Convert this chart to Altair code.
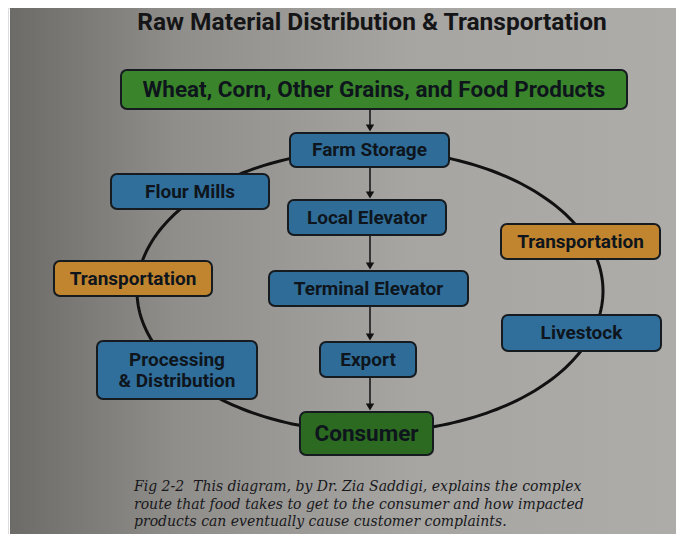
import altair as alt
import numpy as np
import pandas as pd

title_text = "Raw Material Distribution & Transportation"
caption_lines = [
    "Fig 2-2\u00a0\u00a0This diagram, by Dr. Zia Saddigi, explains the complex",
    "route that food takes to get to the consumer and how impacted",
    "products can eventually cause customer complaints.",
]

box_labels = [
    "Wheat, Corn, Other Grains, and Food Products",
    "Farm Storage", "Local Elevator", "Terminal Elevator", "Export", "Consumer",
    "Flour Mills", "Transportation", "Processing\n& Distribution",
    "Transportation", "Livestock",
]
box_kind = ["source", "chain", "chain", "chain", "chain", "end",
            "branch", "transport", "branch", "transport", "branch"]
box_left = [121, 290, 288, 269, 320, 300, 111, 54, 97, 501, 502]
box_right = [627, 449, 446, 468, 416, 433, 269, 212, 257, 660, 661]
box_top = [70, 133, 200, 271, 342, 412, 174, 261, 341, 224, 315]
box_bottom = [109, 167, 235, 306, 377, 455, 209, 296, 399, 259, 351]
label_size = [22.5, 19, 19, 19, 19, 22.5, 19, 19, 19, 19, 19]

arrow_from = [0, 1, 2, 3, 4]
arrow_to = [1, 2, 3, 4, 5]
arrow_x = 370

ellipse_cx, ellipse_cy, ellipse_rx, ellipse_ry = 370, 291, 233, 141

kinds = ["source", "chain", "end", "transport", "branch"]
kind_colors = ["#3a852b", "#2f6d98", "#2c6a21", "#c2852f", "#306f9b"]

X0, X1, Y0, Y1 = 8, 676, 8, 534
W, H = X1 - X0, Y1 - Y0
LINE_H = 21

xs = alt.Scale(domain=[X0, X1], nice=False, zero=False)
ys = alt.Scale(domain=[Y0, Y1], nice=False, zero=False, reverse=True)

boxes = pd.DataFrame({
    "label": box_labels, "kind": box_kind,
    "x0": box_left, "x1": box_right, "y0": box_top, "y1": box_bottom,
    "size": label_size,
})
boxes["cx"] = (boxes.x0 + boxes.x1) / 2
nlines = boxes.label.str.count("\n") + 1
boxes["cy"] = (boxes.y0 + boxes.y1) / 2 - (nlines - 1) * LINE_H / 2

arrows = pd.DataFrame({
    "x": [arrow_x] * len(arrow_from),
    "ya": [box_bottom[i] for i in arrow_from],
    "yb": [box_top[j] for j in arrow_to],
})
arrows["tip"] = arrows.yb - 5

t = np.linspace(0, 2 * np.pi, 241)
ellipse = pd.DataFrame({
    "x": ellipse_cx + ellipse_rx * np.cos(t),
    "y": ellipse_cy + ellipse_ry * np.sin(t),
    "o": np.arange(len(t)),
})

bg = alt.Chart(pd.DataFrame({"a": [0]})).mark_rect(
    color=alt.Gradient(
        gradient="linear", x1=0, y1=0.5, x2=1, y2=0.5,
        stops=[
            alt.GradientStop(offset=0, color="#6d6b67"),
            alt.GradientStop(offset=0.25, color="#908e8a"),
            alt.GradientStop(offset=0.6, color="#a6a5a2"),
            alt.GradientStop(offset=1, color="#adaca8"),
        ],
    )
).encode(x=alt.value(2), x2=alt.value(W), y=alt.value(0), y2=alt.value(H))

ell = alt.Chart(ellipse).mark_line(color="#111111", strokeWidth=3).encode(
    x=alt.X("x:Q", scale=xs, axis=None),
    y=alt.Y("y:Q", scale=ys, axis=None),
    order="o:Q",
)

arrow_lines = alt.Chart(arrows).mark_rule(color="#111111", strokeWidth=1.5).encode(
    x=alt.X("x:Q", scale=xs, axis=None),
    y=alt.Y("ya:Q", scale=ys, axis=None),
    y2="tip:Q",
)
arrow_heads = alt.Chart(arrows).mark_point(
    shape="triangle-down", filled=True, color="#111111", size=70, opacity=1
).encode(
    x=alt.X("x:Q", scale=xs, axis=None),
    y=alt.Y("tip:Q", scale=ys, axis=None),
)

rects = alt.Chart(boxes).mark_rect(
    cornerRadius=6, stroke="#161b20", strokeWidth=2
).encode(
    x=alt.X("x0:Q", scale=xs, axis=None), x2="x1:Q",
    y=alt.Y("y0:Q", scale=ys, axis=None), y2="y1:Q",
    fill=alt.Fill("kind:N", scale=alt.Scale(domain=kinds, range=kind_colors), legend=None),
)

labels = alt.Chart(boxes).mark_text(
    font="Roboto", fontWeight="bold", color="#0e151c", lineBreak="\n",
    baseline="middle", align="center", lineHeight=LINE_H,
).encode(
    x=alt.X("cx:Q", scale=xs, axis=None),
    y=alt.Y("cy:Q", scale=ys, axis=None),
    text="label:N",
    size=alt.Size("size:Q", scale=None, legend=None),
)

title = alt.Chart(pd.DataFrame({"t": [title_text], "x": [372], "y": [23]})).mark_text(
    font="Roboto", fontWeight="bold", fontSize=24.5, color="#151517",
    baseline="middle", align="center",
).encode(
    x=alt.X("x:Q", scale=xs, axis=None), y=alt.Y("y:Q", scale=ys, axis=None), text="t:N"
)

cap = pd.DataFrame({"t": caption_lines, "x": [134] * 3, "y": [487, 505, 522]})
caption = alt.Chart(cap).mark_text(
    font="DejaVu Serif", fontStyle="italic", fontSize=14, color="#18181c",
    baseline="middle", align="left",
).encode(
    x=alt.X("x:Q", scale=xs, axis=None), y=alt.Y("y:Q", scale=ys, axis=None), text="t:N"
)

chart = alt.layer(bg, ell, arrow_lines, arrow_heads, rects, labels, title, caption).properties(
    width=W, height=H, padding=0, autosize=alt.AutoSizeParams(type="none")
).configure_view(stroke=None).configure(background="#ffffff")

chart.save("out.html", embed_options={"renderer": "svg", "actions": False})
